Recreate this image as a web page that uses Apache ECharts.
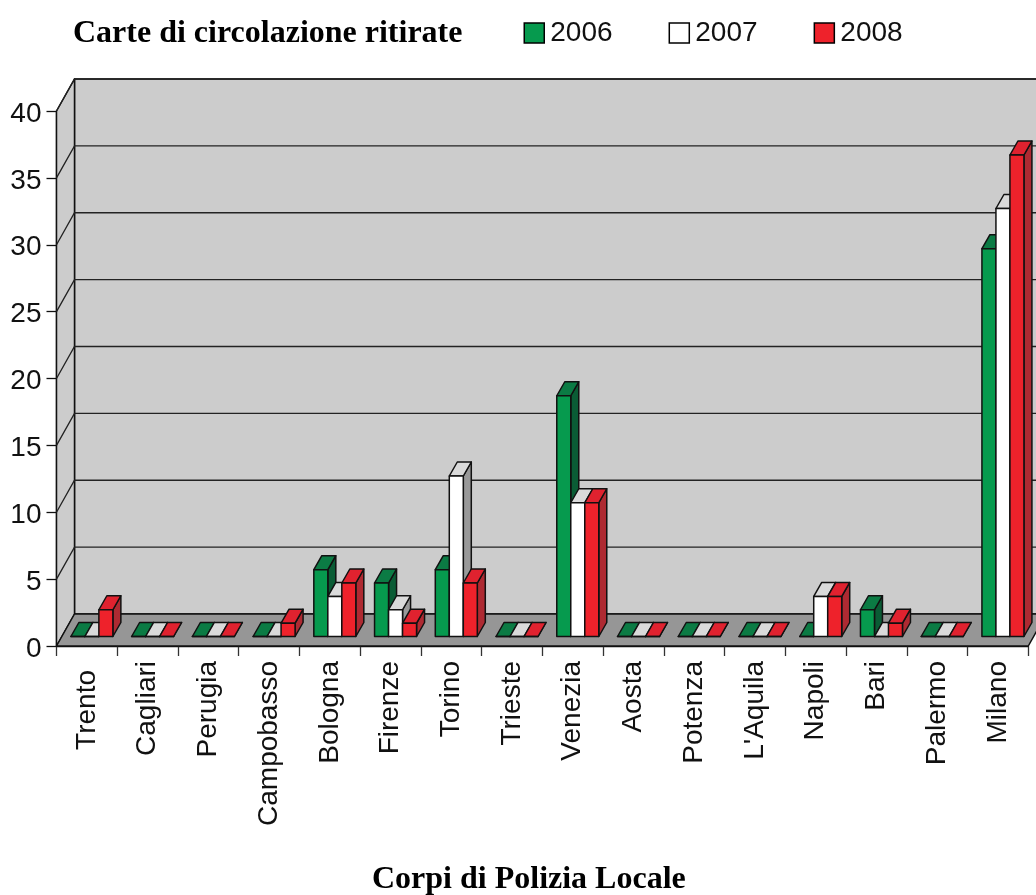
<!DOCTYPE html>
<html><head><meta charset="utf-8">
<style>html,body{margin:0;padding:0;background:#fff}#c{width:1036px;height:895px}</style>
<script src="https://cdn.jsdelivr.net/npm/echarts@6/dist/echarts.min.js"></script>
</head><body><div id="c"></div>
<script>
const categories = ['Trento','Cagliari','Perugia','Campobasso','Bologna','Firenze','Torino','Trieste','Venezia','Aosta','Potenza',"L'Aquila",'Napoli','Bari','Palermo','Milano'];
const values2006 = [0,0,0,0,5,4,5,0,18,0,0,0,0,2,0,29];
const values2007 = [0,0,0,0,3,2,12,0,10,0,0,0,3,0,0,32];
const values2008 = [2,0,0,1,4,1,4,0,10,0,0,0,3,1,0,36];
const yTicks = [0,5,10,15,20,25,30,35,40];

const WALL_DX = 18, WALL_DY = -32;      // depth of the chart box
const BAR_DX = 8, BAR_DY = -14;         // depth of a bar
const BASE_DX = 5, BASE_DY = -9.5;      // bar's front foot from the axis front
const BAR_W = 14;
const EDGE = '#111';

const chart = echarts.init(document.getElementById('c'));

function poly(points, fill, lw) {
  return { type:'polygon', shape:{points}, style:{fill, stroke:EDGE, lineWidth:lw||1.5, lineJoin:'round'} };
}
function renderWalls(params, api) {
  const r = params.coordSys;
  const x0 = r.x, x1 = r.x + r.width, yT = r.y, yB = r.y + r.height;
  return { type:'group', children:[
    poly([[x0+WALL_DX,yT+WALL_DY],[x1+WALL_DX,yT+WALL_DY],[x1+WALL_DX,yB+WALL_DY],[x0+WALL_DX,yB+WALL_DY]], '#cccccc', 1.5),
    poly([[x0,yT],[x0+WALL_DX,yT+WALL_DY],[x0+WALL_DX,yB+WALL_DY],[x0,yB]], '#cccccc', 1.5),
    poly([[x0,yB],[x0+WALL_DX,yB+WALL_DY],[x1+WALL_DX,yB+WALL_DY],[x1,yB]], '#969696', 1.5)
  ]};
}
function renderGrid(params, api) {
  const r = params.coordSys;
  const y = api.coord([0, api.value(0)])[1];
  const x0 = r.x, x1 = r.x + r.width;
  return { type:'polyline',
    shape:{points:[[x0,y],[x0+WALL_DX,y+WALL_DY],[x1+WALL_DX,y+WALL_DY]]},
    style:{fill:null, stroke:'#222', lineWidth:1.3} };
}
function barRenderer(k, front, top, side) {
  return function(params, api) {
    const p = api.coord([api.value(0), api.value(1)]);
    const b = api.coord([api.value(0), 0]);
    const x = p[0] + BASE_DX + (k - 1.5) * BAR_W;
    const w = BAR_W;
    const yT = p[1] + BASE_DY, yB = b[1] + BASE_DY;
    return { type:'group', children:[
      poly([[x+w,yB],[x+w+BAR_DX,yB+BAR_DY],[x+w+BAR_DX,yT+BAR_DY],[x+w,yT]], side),
      poly([[x,yT],[x+BAR_DX,yT+BAR_DY],[x+w+BAR_DX,yT+BAR_DY],[x+w,yT]], top),
      poly([[x,yT],[x+w,yT],[x+w,yB],[x,yB]], front)
    ]};
  };
}
function barSeries(name, values, k, front, top, side) {
  return { name, type:'custom', z:3, itemStyle:{color:front},
    encode:{x:0,y:1}, clip:false,
    data: values.map((v,i)=>[i,v]),
    renderItem: barRenderer(k, front, top, side) };
}

chart.setOption({
  animation:false,
  backgroundColor:'#fff',
  title:[
    { text:'Carte di circolazione ritirate', left:68, top:13,
      textStyle:{fontFamily:'Liberation Serif',fontWeight:'bold',fontSize:32,color:'#000'} },
    { text:'Corpi di Polizia Locale', left:367, top:859,
      textStyle:{fontFamily:'Liberation Serif',fontWeight:'bold',fontSize:32,color:'#000'} }
  ],
  legend:{
    data:['2006','2007','2008'], left:518.5, top:14, icon:'rect',
    itemWidth:20, itemHeight:20, itemGap:56,
    itemStyle:{borderColor:'#000',borderWidth:1.5},
    textStyle:{fontFamily:'Liberation Sans',fontSize:28,color:'#111',padding:[0,0,0,1]}
  },
  grid:{left:56.5,top:111,width:971.8,height:535,containLabel:false},
  xAxis:{
    type:'category',
    data:categories.map(c => c === 'Trento' ? {value:c, textStyle:{padding:[0,9,0,0]}} : c),
    boundaryGap:true,
    axisLine:{show:true,lineStyle:{color:'#111',width:1.3}},
    axisTick:{show:true,alignWithLabel:false,length:10,lineStyle:{color:'#333',width:1.3}},
    axisLabel:{interval:0,rotate:90,margin:15,fontFamily:'Liberation Sans',fontSize:28,color:'#111'},
    splitLine:{show:false}
  },
  yAxis:{
    type:'value', min:0, max:40, interval:5,
    axisLine:{show:true,lineStyle:{color:'#111',width:1.3}},
    axisTick:{show:true,length:10,lineStyle:{color:'#111',width:1.3}},
    axisLabel:{margin:15,verticalAlign:'top',lineHeight:6,fontFamily:'Liberation Sans',fontSize:28,color:'#111'},
    splitLine:{show:false}
  },
  series:[
    { name:'walls', type:'custom', z:1, clip:false, silent:true, data:[[0]], renderItem:renderWalls },
    { name:'gridlines', type:'custom', z:2, clip:false, silent:true, data:yTicks.slice(1).map(v=>[v]), encode:{y:0}, renderItem:renderGrid },
    barSeries('2006', values2006, 0, '#069A4E', '#0B7B44', '#0A5C35'),
    barSeries('2007', values2007, 1, '#FFFFFF', '#DADADA', '#999999'),
    barSeries('2008', values2008, 2, '#EE222B', '#E0222F', '#AE2A32')
  ]
});
</script></body></html>
